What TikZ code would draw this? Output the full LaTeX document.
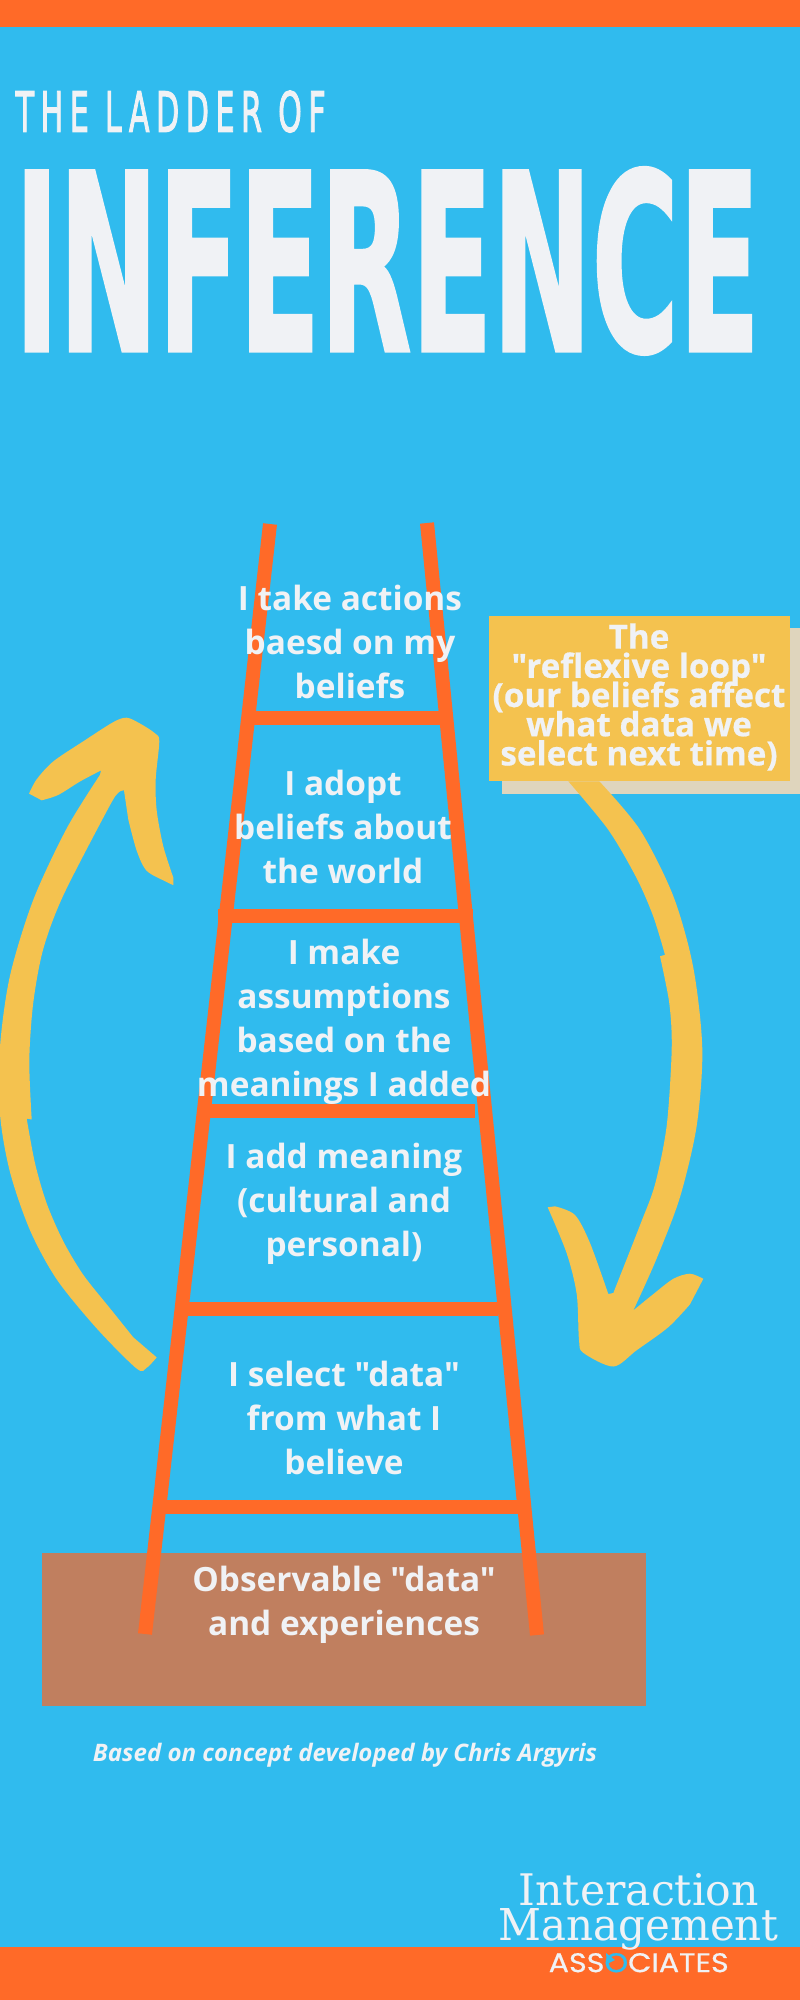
\documentclass[tikz,border=0pt]{standalone}
\usepackage{fontspec}
\usepackage{graphicx}
\setmainfont[Ligatures=TeXOff]{Open Sans}
\newfontfamily\loopfont[Ligatures=TeXOff,BoldFeatures={FakeBold=0.6}]{Open Sans}
\newfontfamily\headfont[BoldFeatures={FakeBold=1.5}]{DejaVu Sans}
\newfontfamily\subheadfont[LetterSpace=22,FakeBold=2.5]{DejaVu Sans}
\newfontfamily\logofont{DejaVu Serif}
\newfontfamily\logosans[FakeBold=0.6]{Poppins}
\definecolor{skyblue}{HTML}{30BBEE}
\definecolor{barorange}{HTML}{FF6A28}
\definecolor{loopyellow}{HTML}{F4C24F}
\definecolor{loopshadow}{HTML}{DFD5BD}
\definecolor{groundbrown}{HTML}{C07F5F}
\definecolor{paper}{HTML}{F0F2F5}
\newlength\pxu
\setlength\pxu{0.01cm}
\newcommand{\fitbox}[3]{\resizebox{#1\pxu}{#2\pxu}{#3}}
\newcommand{\tightlines}{\setlength{\lineskiplimit}{-20pt}}

\begin{document}
\begin{tikzpicture}[x=0.01cm,y=-0.01cm,
    rail/.style={line width=14\pxu,barorange},
    rung/.style={line width=14\pxu,barorange},
    steptext/.style={text=paper,align=center,inner sep=0pt,
      font=\fontsize{9.5}{12.5}\selectfont\bfseries},
    looptext/.style={text=paper,align=center,inner sep=0pt,
      font=\loopfont\bfseries\fontsize{9.45}{8.3}\selectfont\tightlines},
    titletext/.style={text=paper,inner sep=0pt,anchor=north west}]
  \useasboundingbox (0,0) rectangle (800,2000);
  % background and bars
  \fill[skyblue] (0,0) rectangle (800,2000);
  \fill[barorange] (0,0) rectangle (800,27);
  \fill[barorange] (0,1947) rectangle (800,2000);
  % title
  \node[titletext] (ladderof) at (15,90) {\fitbox{310}{41}{\subheadfont THE LADDER OF}};
  \node[titletext] (inference) at (14,167) {\fitbox{745}{183}{\headfont\bfseries INFERENCE}};
  % ground
  \fill[groundbrown] (42,1553) rectangle (646,1706);
  % ladder: rails
  \draw[rail] (270,524) -- (145,1634);
  \draw[rail] (427,523) -- (537,1635);
  % ladder: rungs
  \draw[rung] (248,717.5) -- (448,717.5);
  \draw[rung] (218,915.5) -- (473,915.5);
  \draw[rung] (210,1110.5) -- (475,1110.5);
  \draw[rung] (185,1308.5) -- (498,1308.5);
  \draw[rung] (158,1506.5) -- (522,1506.5);
  % left arrow
  \fill[loopyellow] plot[smooth,tension=.5] coordinates {(100,774.8) (66.7,828.4) (33.3,899.8) (10,975.7) (0,1047.1) (0,1114.1) (10,1172.1) (30,1230.2) (56.7,1279.3) (96.7,1328.4) (136.7,1368.6) (146.7,1367.7) (156.7,1357.4)}
    -- plot[smooth,tension=.5] coordinates {(133.3,1337.3) (110,1308.3) (83.3,1274.8) (63.3,1241.3) (46.7,1203.4) (35,1163.2) (26.7,1118.6)}
    -- plot[smooth,tension=.5] coordinates {(31.7,1119.5) (29.3,1060.5) (33.3,1002.5) (43.3,948.9) (63.3,895.4) (108.3,808.3) (118.3,792.7) (124,790.4)}
    -- plot[smooth,tension=.5] coordinates {(128.3,819.5) (136.7,850.7) (146.7,870.8) (166.7,882) (173.3,885.1)}
    -- plot[smooth,tension=.5] coordinates {(173.3,877.5) (163.3,846.3) (156.7,810.5) (155.7,779.3) (159.3,741.3) (155,733.3) (140,723.5) (126.7,717.7) (113.3,722.1) (83.3,741.3) (53.3,761.4) (36.7,779.3) (29,793.6)}
    -- plot[smooth,tension=.5] coordinates {(41.7,800.3) (58.3,794.9) (80,781.5) (101,770.4)} -- cycle;
  % shadow of the loop box, under the right arrow
  \fill[loopshadow] (501.7,628) rectangle (800,794);
  % right arrow
  \fill[loopyellow] plot[smooth,tension=.5] coordinates {(599.3,781.3) (640,829.8) (673.3,896.1) (693.3,967.6) (702.3,1049.2) (696.7,1125.7) (680,1197.1) (656.7,1258.4) (635,1306.8)}
    -- plot[smooth,tension=.5] coordinates {(633.3,1310.4) (653.3,1294.1) (673.3,1278.8) (690,1273.7) (703.3,1278.8)}
    -- plot[smooth,tension=.5] coordinates {(690,1304.3) (668.3,1327.2) (636.7,1350.2) (613.3,1366.5) (583.3,1352.8) (579,1340) (576.7,1294.1) (566.7,1253.3) (547.7,1207.3)}
    -- plot[smooth,tension=.5] coordinates {(555,1206.3) (575,1215) (590,1243) (608.3,1294)}
    -- plot[smooth,tension=.5] coordinates {(613.3,1293) (640,1225.2) (655,1184.4) (666.7,1125.7) (671.7,1049.2) (669.3,1003.3) (660,956.3)}
    -- plot[smooth,tension=.5] coordinates {(665,954.8) (653.3,916.5) (636.7,878.3) (608.3,829.8) (568.3,781.3)} -- cycle;
  % loop box
  \fill[loopyellow] (489,616) rectangle (789.5,781);
  \node[looptext] (loopnote) at (639,697) {The\\"reflexive loop"\\(our beliefs affect\\what data we\\select next time)};
  % steps of the ladder
  \node[steptext] (actions) at (350,642) {I take actions\\baesd on my\\beliefs};
  \node[steptext] (beliefs) at (343,827) {I adopt\\beliefs about\\the world};
  \node[steptext] (assume) at (344,1022) {I make\\assumptions\\based on the\\meanings I added};
  \node[steptext] (meaning) at (344,1204) {I add meaning\\(cultural and\\personal)};
  \node[steptext] (select) at (344,1418) {I select "data"\\from what I\\believe};
  \node[steptext] (observe) at (344,1605) {Observable "data"\\and experiences};
  \node[text=paper,inner sep=0pt,font=\fontsize{6.85}{8}\selectfont\bfseries\itshape] (credit) at (345,1755) {Based on concept developed by Chris Argyris};
  % logo
  \node[text=paper,inner sep=0pt,anchor=south west] (logoa) at (518,1907) {\fitbox{240}{32}{\logofont Interaction}};
  \node[text=paper,inner sep=0pt,anchor=south west] (logob) at (498,1942) {\fitbox{280}{32}{\logofont Mana\smash{g}ement}};
  \node[text=paper,inner sep=0pt,anchor=south west] (logoc) at (548,1973) {\fitbox{180}{19}{\logosans ASS\textcolor{skyblue}{O}CIATES}};
  \fill[skyblue] (606,1953) -- (615,1960) -- (607,1964) -- cycle;
\end{tikzpicture}
\end{document}
